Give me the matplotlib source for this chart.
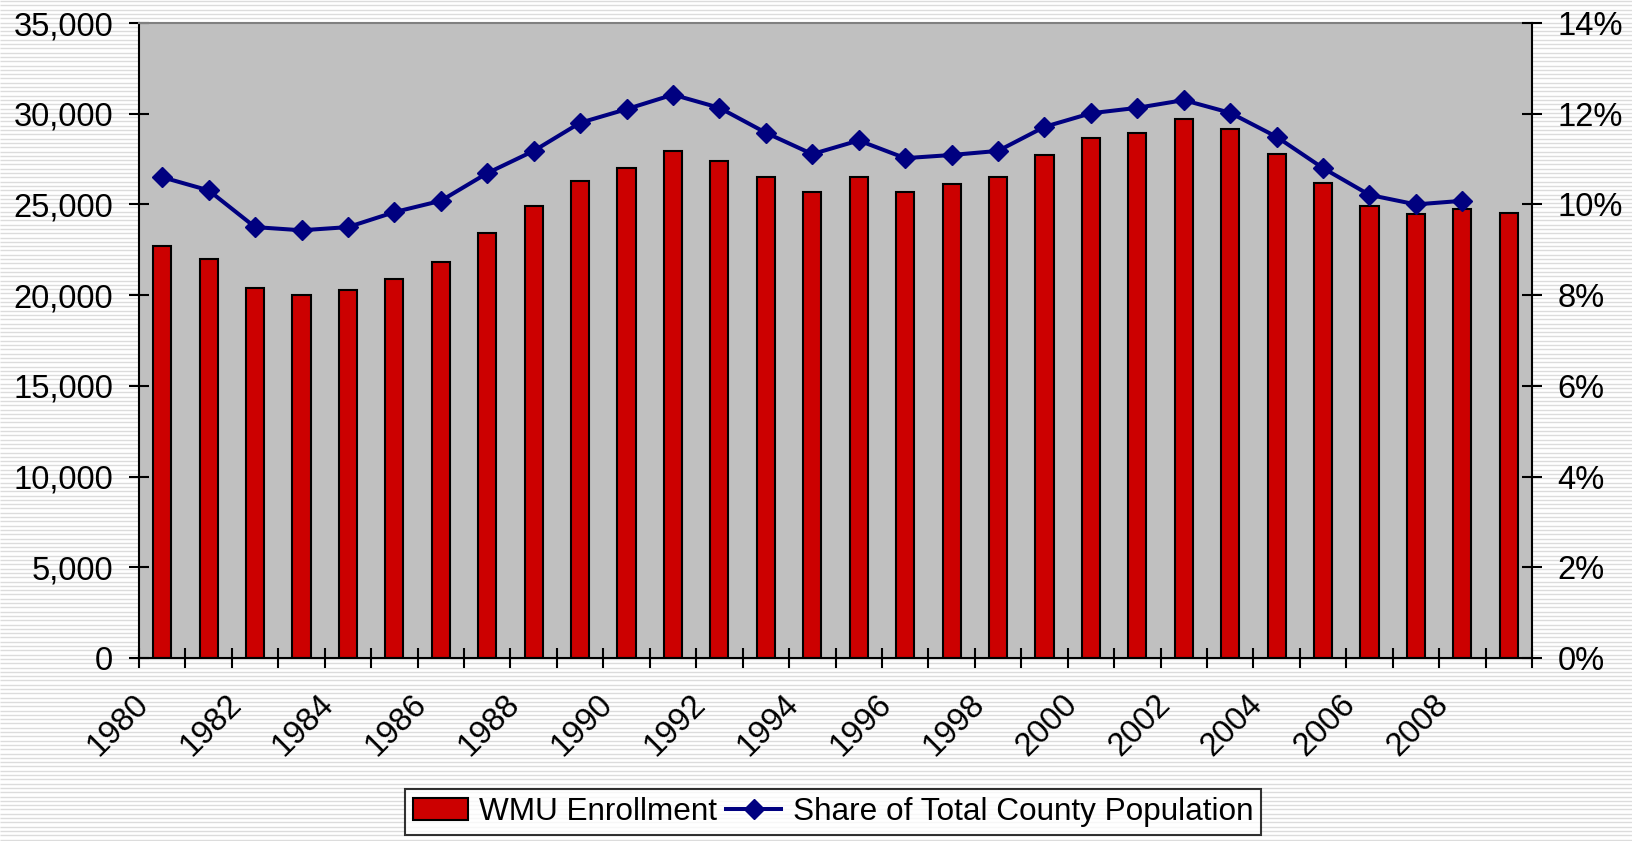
import numpy as np
import matplotlib
matplotlib.use("Agg")
import matplotlib.pyplot as plt
from matplotlib.ticker import FuncFormatter, PercentFormatter, FixedLocator

# --- DATA ---
years = list(range(1980, 2010))
enrollment = [22700, 22000, 20400, 20000, 20300, 20900, 21800, 23400, 24900, 26300,
              27000, 27950, 27400, 26500, 25700, 26500, 25700, 26100, 26500, 27700,
              28650, 28950, 29700, 29150, 27800, 26200, 24900, 24450, 24750, 24550]
share_years = list(range(1980, 2009))
share = [0.1060, 0.1031, 0.0950, 0.0943, 0.0950, 0.0983, 0.1008, 0.1069, 0.1118, 0.1180,
         0.1210, 0.1242, 0.1213, 0.1158, 0.1111, 0.1141, 0.1102, 0.1109, 0.1118, 0.1171,
         0.1201, 0.1213, 0.1230, 0.1202, 0.1149, 0.1080, 0.1021, 0.1000, 0.1008]
tick_years = list(range(1980, 2009, 2))

BAR_RED = "#CC0000"
LINE_NAVY = "#000080"
FONT = ["Liberation Sans", "DejaVu Sans"]

plt.rcParams["font.family"] = FONT
plt.rcParams["font.size"] = 23.5

fig = plt.figure(figsize=(16.33, 8.41), dpi=100)

# striped background
bg = fig.add_axes([0, 0, 1, 1], zorder=-10)
bg.set_xlim(0, 1)
bg.set_ylim(0, 841)
bg.hlines(np.arange(1.5, 841, 4.3), 0, 1, color="#dcdcdc", lw=1.0)
bg.axis("off")

ax = fig.add_axes([139 / 1633, 1 - 658 / 841, (1532 - 139) / 1633, (658 - 23) / 841])
ax.set_facecolor("#C0C0C0")

x = np.arange(len(years))
ax.bar(x, enrollment, width=0.39, color=BAR_RED, edgecolor="black", linewidth=1.5,
       label="WMU Enrollment", zorder=2)
ax.set_xlim(-0.5, len(years) - 0.5)
ax.set_ylim(0, 35000)
ax.set_yticks(np.arange(0, 35001, 5000))
ax.yaxis.set_major_formatter(FuncFormatter(lambda v, p: f"{int(v):,}"))

# category boundaries as major ticks, year labels as minor ticks
ax.xaxis.set_major_locator(FixedLocator(np.arange(-0.5, len(years), 1.0)))
ax.set_xticklabels([])
label_pos = [years.index(y) - 0.4 for y in tick_years]
ax.set_xticks(label_pos, minor=True)
ax.set_xticklabels([str(y) for y in tick_years], minor=True, rotation=45,
                   ha="right", va="center", rotation_mode="anchor")
ax.tick_params(axis="x", which="major", direction="inout", length=15, width=1.5)
ax.tick_params(axis="x", which="minor", length=0, pad=30)
ax.tick_params(axis="y", direction="inout", length=15, width=1.5, pad=11)

for s in ["left", "bottom"]:
    ax.spines[s].set_linewidth(1.5)
    ax.spines[s].set_color("black")
ax.spines["top"].set_color("#808080")
ax.spines["top"].set_linewidth(1.5)
ax.spines["right"].set_visible(False)

ax2 = ax.twinx()
sx = np.array([years.index(y) for y in share_years])
ax2.plot(sx, share, color=LINE_NAVY, lw=2.9, marker="D", markersize=10.5,
         label="Share of Total County Population", zorder=3)
ax2.set_ylim(0, 0.14)
ax2.set_yticks(np.arange(0, 0.1401, 0.02))
ax2.yaxis.set_major_formatter(PercentFormatter(1.0, decimals=0))
ax2.tick_params(axis="y", direction="inout", length=15, width=1.5, pad=11)
for s in ["left", "bottom", "top"]:
    ax2.spines[s].set_visible(False)
ax2.spines["right"].set_linewidth(1.5)
ax2.spines["right"].set_color("black")

h1, l1 = ax.get_legend_handles_labels()
h2, l2 = ax2.get_legend_handles_labels()
leg = fig.legend(h1 + h2, l1 + l2, loc="upper center", bbox_to_anchor=(0.510, 0.062),
                 ncol=2, frameon=True, fancybox=False, edgecolor="black", fontsize=22.7,
                 handlelength=1.75, handletextpad=0.35, columnspacing=0.3,
                 borderpad=0.25, borderaxespad=0)
leg.get_frame().set_linewidth(1.5)
leg.get_frame().set_facecolor("white")

fig.savefig("out.png", dpi=100)
